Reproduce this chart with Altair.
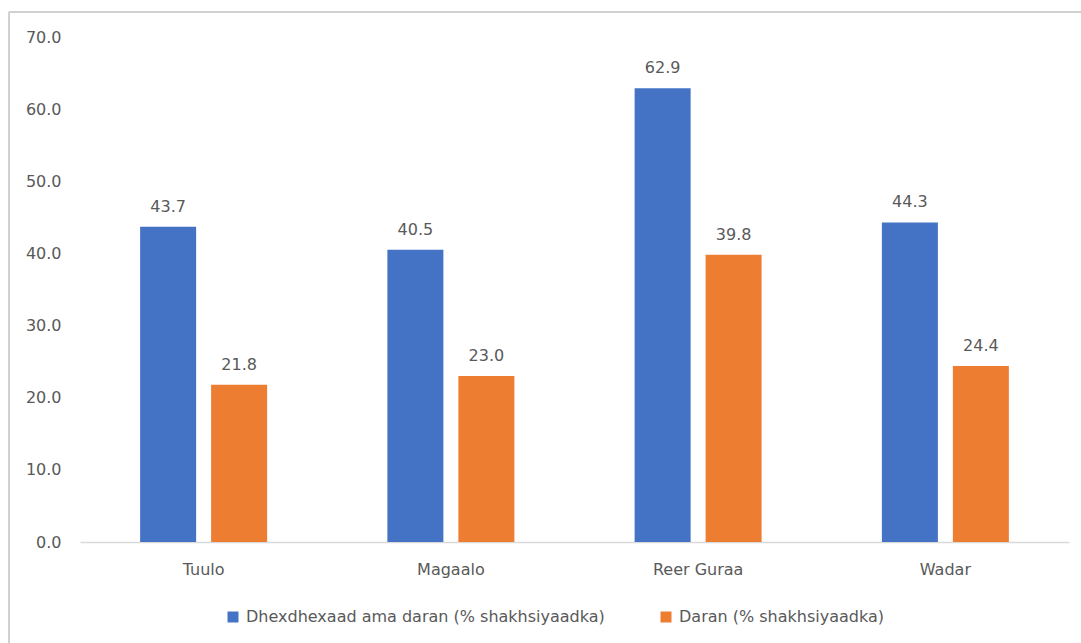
import altair as alt
import pandas as pd

# Categories and series
regions = ["Tuulo", "Magaalo", "Reer Guraa", "Wadar"]
series_names = ["Dhexdhexaad ama daran (% shakhsiyaadka)", "Daran (% shakhsiyaadka)"]
moderate_or_severe = [43.7, 40.5, 62.9, 44.3]
severe = [21.8, 23.0, 39.8, 24.4]
y_ticks = [0, 10, 20, 30, 40, 50, 60, 70]

colors = ["#4472C4", "#ED7D31"]
FONT = "DejaVu Sans"
FS = 16
TEXT = "#595959"

rows = []
for i, r in enumerate(regions):
    rows.append({"region": r, "series": series_names[0], "value": moderate_or_severe[i]})
    rows.append({"region": r, "series": series_names[1], "value": severe[i]})
df = pd.DataFrame(rows)

W, H = 989, 505

x_enc = alt.X("region:N", sort=regions,
              scale=alt.Scale(paddingInner=0, paddingOuter=0),
              axis=alt.Axis(title=None, labelAngle=0, ticks=False,
                            domainColor="#D9D9D9", domainWidth=1.5,
                            labelFont=FONT, labelFontSize=FS, labelColor=TEXT,
                            labelPadding=19))
xoff_enc = alt.XOffset("series:N", sort=series_names,
                       scale=alt.Scale(paddingInner=0.211, paddingOuter=0.847))
y_enc = alt.Y("value:Q",
              scale=alt.Scale(domain=[0, 70], nice=False),
              axis=alt.Axis(title=None, values=y_ticks, format=".1f",
                            grid=False, domain=False, ticks=False,
                            labelFont=FONT, labelFontSize=FS, labelColor=TEXT,
                            labelPadding=19))

bars = alt.Chart(df).mark_bar().encode(
    x=x_enc,
    xOffset=xoff_enc,
    y=y_enc,
    color=alt.Color("series:N", sort=series_names,
                    scale=alt.Scale(domain=series_names, range=colors),
                    legend=alt.Legend(title=None, orient="none",
                                      legendX=145, legendY=572,
                                      direction="horizontal",
                                      symbolType="square", symbolSize=121,
                                      symbolStrokeWidth=0,
                                      labelFont=FONT, labelFontSize=FS,
                                      labelColor=TEXT, labelOffset=5,
                                      columnPadding=53, labelLimit=500)),
)

labels = alt.Chart(df).mark_text(
    font=FONT, fontSize=FS, color=TEXT, baseline="alphabetic", dy=-15
).encode(
    x=alt.X("region:N", sort=regions),
    xOffset=alt.XOffset("series:N", sort=series_names),
    y="value:Q",
    text=alt.Text("value:Q", format=".1f"),
)

# Chart-area frame (top and left edges)
frame_top = alt.Chart().mark_rule(color="#D0D0D0", strokeWidth=2).encode(
    x=alt.value(-71), x2=alt.value(W + 20), y=alt.value(-25))
frame_left = alt.Chart().mark_rule(color="#D0D0D0", strokeWidth=2).encode(
    x=alt.value(-71), y=alt.value(-25), y2=alt.value(H + 120))

chart = alt.layer(frame_top, frame_left, bars, labels).properties(
    width=W, height=H,
    autosize=alt.AutoSizeParams(type="none"),
    padding={"left": 80, "top": 37, "right": 12, "bottom": 101},
    background="white",
).configure_view(stroke=None)

chart.save("out.html", embed_options={"renderer": "svg", "actions": False})
